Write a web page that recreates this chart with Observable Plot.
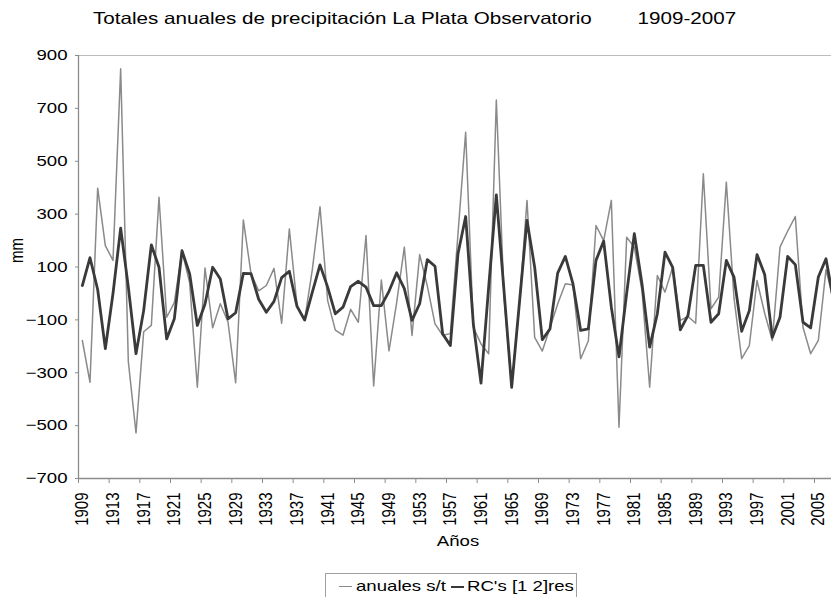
<!DOCTYPE html>
<html>
<head>
<meta charset="utf-8">
<script src="https://cdn.jsdelivr.net/npm/d3@7"></script>
<script src="https://cdn.jsdelivr.net/npm/@observablehq/plot@0.6"></script>
<style>
  html, body { margin: 0; padding: 0; background: #fff; }
  body { width: 831px; height: 597px; overflow: hidden; position: relative; font-family: "Liberation Sans", Arial, sans-serif; color: #000; }
  #title { position: absolute; left: 93px; top: 8px; font-size: 16.5px; line-height: 20px; white-space: pre; transform: scaleX(1.25); transform-origin: 0 50%; }
  #chart { position: absolute; left: 0; top: 34px; }
  #legend { position: absolute; left: 325px; top: 573px; width: 250px; height: 40px; border: 1px solid #a0a0a0; background: #fff; }
  #legend .sw { position: absolute; top: 12px; width: 13px; height: 0; }
  #legend .lt { position: absolute; top: 3px; font-size: 15px; line-height: 18px; white-space: pre; transform: scaleX(1.24); transform-origin: 0 50%; }
</style>
</head>
<body>
<div id="title">Totales anuales de precipitación La Plata Observatorio        1909-2007</div>
<div id="chart"></div>
<div id="legend">
  <span class="sw" style="left:13px; border-top:1.5px solid #8a8a8a"></span>
  <span class="lt" style="left:30px">anuales s/t</span>
  <span class="sw" style="left:125px; border-top:2.6px solid #3a3a3a"></span>
  <span class="lt" style="left:141px">RC's [1 2]res</span>
</div>
<script>
const years = [1909,1910,1911,1912,1913,1914,1915,1916,1917,1918,1919,1920,1921,1922,1923,1924,1925,1926,1927,1928,
  1929,1930,1931,1932,1933,1934,1935,1936,1937,1938,1939,1940,1941,1942,1943,1944,1945,1946,1947,1948,
  1949,1950,1951,1952,1953,1954,1955,1956,1957,1958,1959,1960,1961,1962,1963,1964,1965,1966,1967,1968,
  1969,1970,1971,1972,1973,1974,1975,1976,1977,1978,1979,1980,1981,1982,1983,1984,1985,1986,1987,1988,
  1989,1990,1991,1992,1993,1994,1995,1996,1997,1998,1999,2000,2001,2002,2003,2004,2005,2006,2007];

// "anuales s/t" (thin grey line), mm
const anuales = [-178,-336,398,181,125,850,-258,-528,-145,-121,364,-90,-35,160,40,-355,96,-130,-39,-108,
  -338,278,75,10,30,95,-113,244,-45,-99,90,328,-27,-139,-158,-60,-109,219,-350,51,
  -217,-35,175,-159,147,28,-115,-158,-152,226,610,-128,-191,-228,732,-10,-355,-45,352,-166,
  -218,-130,-40,37,32,-247,-180,257,200,352,-506,213,175,11,-355,68,5,99,-102,-87,
  -113,453,-58,-14,421,-18,-247,-197,49,-75,-178,175,236,291,-128,-228,-178,90,-30];

// "RC's [1 2]res" (thick dark line), mm
const rc = [30,135,15,-209,0,247,24,-228,-65,184,99,-172,-96,162,74,-121,-40,99,55,-96,
  -73,76,75,-22,-71,-30,60,84,-49,-101,5,108,24,-77,-52,26,46,24,-46,-46,
  8,78,18,-102,-39,128,103,-153,-197,150,291,-115,-339,24,373,11,-355,-39,276,99,
  -175,-134,77,140,36,-140,-134,125,198,-52,-240,0,226,36,-203,-77,156,99,-138,-83,
  106,106,-109,-77,125,62,-143,-65,147,72,-166,-90,140,109,-109,-130,62,131,-30];

const labelYears = [1909,1913,1917,1921,1925,1929,1933,1937,1941,1945,1949,1953,1957,1961,1965,1969,1973,1977,1981,1985,1989,1993,1997,2001,2005];
const yTicks = [-700,-500,-300,-100,100,300,500,700,900];
const seriesNames = ["anuales s/t", "RC's [1 2]res"];

const data = years.map((y, i) => ({year: y, anuales: anuales[i], rc: rc[i]}));
const tickBounds = labelYears.map(y => y - 0.5);

const chart = Plot.plot({
  width: 831,
  height: 539,
  marginLeft: 78,
  marginRight: -6,
  marginTop: 21,
  marginBottom: 95,
  x: {domain: [1908.5, 2007.5]},
  y: {domain: [-700, 900]},
  style: {fontFamily: "'Liberation Sans', Arial, sans-serif", fontSize: "15px", color: "#000", background: "#fff"},
  marks: [
    Plot.ruleY([900], {stroke: "#bcbcbc", strokeWidth: 1.2}),
    Plot.lineY(data, {x: "year", y: "anuales", stroke: "#8a8a8a", strokeWidth: 1.5}),
    Plot.lineY(data, {x: "year", y: "rc", stroke: "#3a3a3a", strokeWidth: 2.8}),
    Plot.ruleX([1908.5], {stroke: "#8c8c8c", strokeWidth: 1.3}),
    Plot.ruleY([-700], {stroke: "#8c8c8c", strokeWidth: 1.3}),
    Plot.axisY({ticks: yTicks, tickSize: 3, tickPadding: 8, stroke: "#8c8c8c", fill: "#000", fontSize: 15, label: null, tickFormat: "d"}),
    Plot.axisX({ticks: tickBounds, tickSize: 5, stroke: "#8c8c8c", tickFormat: () => "", label: null}),
    Plot.axisX({ticks: labelYears, tickSize: 0, tickPadding: 14, rotate: -90, textAnchor: "end", lineAnchor: "middle", fill: "#000", fontSize: 15, label: null, tickFormat: "d"}),
    Plot.text(["mm"], {frameAnchor: "left", dx: -61, dy: -4, rotate: -90, fontSize: 15, fill: "#000"}),
    Plot.text(["Años"], {frameAnchor: "bottom", dy: 67, fontSize: 15, fill: "#000"})
  ]
});
document.getElementById("chart").appendChild(chart);

// The reference is horizontally stretched (~1.24x): widen glyphs about their anchors
const K = 1.24;
chart.querySelectorAll("text").forEach(t => {
  const tr = t.getAttribute("transform") || "";
  if (/rotate\(/.test(tr)) {
    t.setAttribute("transform", tr + ` scale(1,${K})`);
  } else {
    const x = parseFloat(t.getAttribute("x")) || 0;
    t.setAttribute("transform", `${tr} translate(${x},0) scale(${K},1) translate(${-x},0)`);
  }
});
</script>
</body>
</html>
